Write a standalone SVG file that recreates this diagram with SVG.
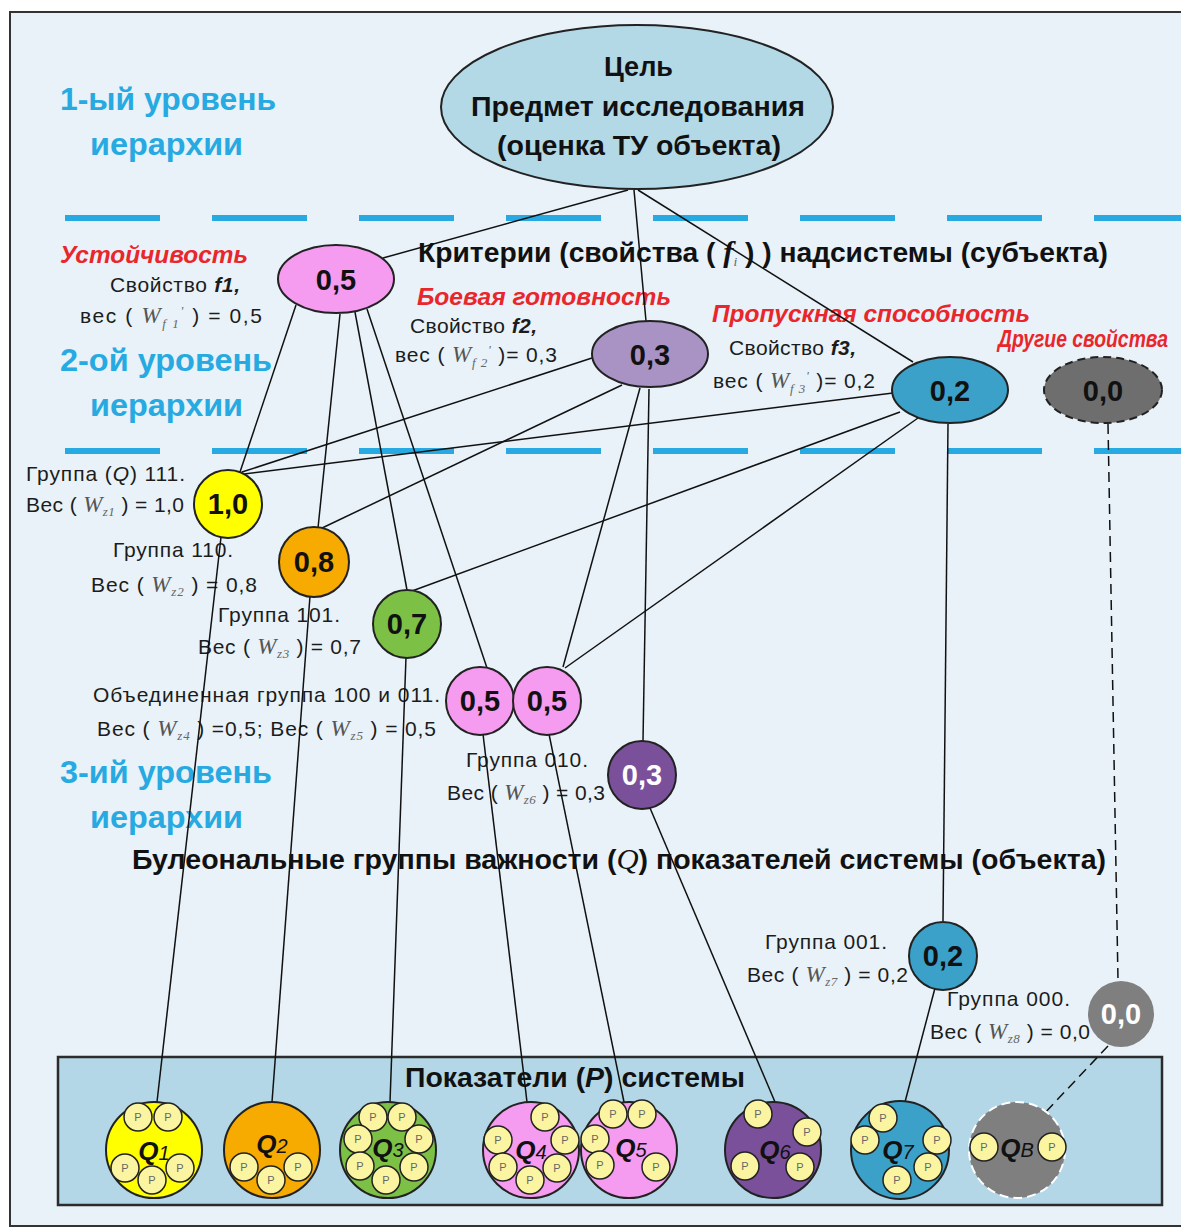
<svg xmlns="http://www.w3.org/2000/svg" xmlns:xlink="http://www.w3.org/1999/xlink" width="1181" height="1231" viewBox="0 0 1181 1231">
<style>
text{font-family:"Liberation Sans",Arial,sans-serif}
.lvl{font-size:31px;font-weight:bold;fill:#27a9e1}
.red{font-size:24px;font-weight:bold;font-style:italic;fill:#e8262b}
.lbl{font-size:21px;fill:#1c1c1c}
.hd{font-size:27px;font-weight:bold;fill:#111}
.num{font-size:29px;font-weight:bold;fill:#111;text-anchor:middle}
.wt{fill:#fff}
.w{font-family:"Liberation Serif",serif;font-style:italic;fill:#555;font-size:23px;font-weight:normal}
.sub{font-family:"Liberation Serif",serif;font-style:italic;fill:#666;font-size:13px;font-weight:normal}
.conn line{stroke:#111;stroke-width:1.5}
.conn line.d{stroke-dasharray:10 6}
.node{stroke:#222;stroke-width:2}
.dash{stroke:#27a9e1;stroke-width:6;stroke-dasharray:95 52;fill:none}
.q{font-size:26px;font-weight:bold;font-style:italic;text-anchor:middle;fill:#111}
.qs{font-size:20px;font-weight:normal}
</style>
<defs>
<g id="P"><circle r="14" fill="#fbf5a2" stroke="#222" stroke-width="1.5"/><text y="4" font-size="11" fill="#666" text-anchor="middle" font-family="Liberation Sans, sans-serif">P</text></g>
</defs>

<rect x="0" y="0" width="1181" height="1231" fill="#ffffff"/>
<rect x="10" y="12" width="1190" height="1214" fill="#e8f2f8" stroke="#333" stroke-width="2"/>

<g id="separators">
<line class="dash" x1="65" y1="218" x2="1181" y2="218"/>
<line class="dash" x1="65" y1="451" x2="1181" y2="451"/>
</g>

<g id="level-labels">
<text class="lvl" x="60" y="110" textLength="216" lengthAdjust="spacingAndGlyphs">1-ый уровень</text>
<text class="lvl" x="90" y="155" textLength="153" lengthAdjust="spacingAndGlyphs">иерархии</text>
<text class="lvl" x="60" y="371" textLength="212" lengthAdjust="spacingAndGlyphs">2-ой уровень</text>
<text class="lvl" x="90" y="416" textLength="153" lengthAdjust="spacingAndGlyphs">иерархии</text>
<text class="lvl" x="60" y="783" textLength="212" lengthAdjust="spacingAndGlyphs">3-ий уровень</text>
<text class="lvl" x="90" y="828" textLength="153" lengthAdjust="spacingAndGlyphs">иерархии</text>
</g>

<g id="indicators-box">
<rect x="58" y="1057" width="1104" height="148" fill="#b3d7e6" stroke="#2b2b2b" stroke-width="2.5"/>
<text class="hd" x="405" y="1087" font-size="24" textLength="340" lengthAdjust="spacingAndGlyphs">Показатели (<tspan font-style="italic">P</tspan>) системы</text>
</g>

<g id="labels">
<text class="hd" x="418" y="262" textLength="690" lengthAdjust="spacingAndGlyphs">Критерии (свойства ( <tspan font-family="Liberation Serif, serif" font-style="italic" font-size="29">f</tspan><tspan class="sub" dy="4">i</tspan><tspan dy="-4"> ) ) надсистемы (субъекта)</tspan></text>
<text class="hd" x="132" y="869" textLength="974" lengthAdjust="spacingAndGlyphs">Булеональные группы важности (<tspan font-family="Liberation Serif, serif" font-style="italic" font-weight="normal" font-size="29">Q</tspan>) показателей системы (объекта)</text>

<text class="red" x="60" y="263" textLength="188" lengthAdjust="spacingAndGlyphs">Устойчивость</text>
<text class="red" x="417" y="305" textLength="254" lengthAdjust="spacingAndGlyphs">Боевая готовность</text>
<text class="red" x="712" y="322" textLength="318" lengthAdjust="spacingAndGlyphs">Пропускная способность</text>
<text class="red" x="998" y="347" font-size="21" textLength="170" lengthAdjust="spacingAndGlyphs">Другие свойства</text>

<text class="lbl" x="110" y="292" textLength="130">Свойство <tspan font-style="italic" font-weight="bold">f1,</tspan></text>
<text class="lbl" x="80" y="323" textLength="182">вес ( <tspan class="w">W</tspan><tspan class="sub" dy="5">f 1</tspan><tspan class="sub" dy="-13">'</tspan><tspan dy="8"> ) = 0,5</tspan></text>
<text class="lbl" x="410" y="333" textLength="127">Свойство <tspan font-style="italic" font-weight="bold">f2,</tspan></text>
<text class="lbl" x="395" y="362" textLength="162">вес ( <tspan class="w">W</tspan><tspan class="sub" dy="5">f 2</tspan><tspan class="sub" dy="-13">'</tspan><tspan dy="8"> )= 0,3</tspan></text>
<text class="lbl" x="729" y="355" textLength="127">Свойство <tspan font-style="italic" font-weight="bold">f3,</tspan></text>
<text class="lbl" x="713" y="388" textLength="162">вес ( <tspan class="w">W</tspan><tspan class="sub" dy="5">f 3</tspan><tspan class="sub" dy="-13">'</tspan><tspan dy="8"> )= 0,2</tspan></text>

<text class="lbl" x="26" y="481" textLength="159">Группа (<tspan font-style="italic">Q</tspan>) 111.</text>
<text class="lbl" x="26" y="512" textLength="158">Вес ( <tspan class="w">W</tspan><tspan class="sub" dy="4">z1</tspan><tspan dy="-4"> ) = 1,0</tspan></text>
<text class="lbl" x="113" y="557" textLength="120">Группа 110.</text>
<text class="lbl" x="91" y="592" textLength="166">Вес ( <tspan class="w">W</tspan><tspan class="sub" dy="4">z2</tspan><tspan dy="-4"> )  = 0,8</tspan></text>
<text class="lbl" x="218" y="622" textLength="122">Группа 101.</text>
<text class="lbl" x="198" y="654" textLength="163">Вес ( <tspan class="w">W</tspan><tspan class="sub" dy="4">z3</tspan><tspan dy="-4"> ) = 0,7</tspan></text>
<text class="lbl" x="93" y="702" textLength="347">Объединенная группа 100 и 011.</text>
<text class="lbl" x="97" y="736" textLength="339">Вес  ( <tspan class="w">W</tspan><tspan class="sub" dy="4">z4</tspan><tspan dy="-4"> ) =0,5; Вес  ( </tspan><tspan class="w">W</tspan><tspan class="sub" dy="4">z5</tspan><tspan dy="-4"> ) = 0,5</tspan></text>
<text class="lbl" x="466" y="767" textLength="122">Группа 010.</text>
<text class="lbl" x="447" y="800" textLength="158">Вес ( <tspan class="w">W</tspan><tspan class="sub" dy="4">z6</tspan><tspan dy="-4"> ) = 0,3</tspan></text>
<text class="lbl" x="765" y="949" textLength="122">Группа 001.</text>
<text class="lbl" x="747" y="982" textLength="161">Вес ( <tspan class="w">W</tspan><tspan class="sub" dy="4">z7</tspan><tspan dy="-4"> ) = 0,2</tspan></text>
<text class="lbl" x="947" y="1006" textLength="123">Группа 000.</text>
<text class="lbl" x="930" y="1039" textLength="160">Вес ( <tspan class="w">W</tspan><tspan class="sub" dy="4">z8</tspan><tspan dy="-4"> ) = 0,0</tspan></text>
</g>

<g id="connectors" class="conn">
<line x1="628" y1="190" x2="383" y2="258"/>
<line x1="634" y1="190" x2="646" y2="321"/>
<line x1="638" y1="190" x2="913" y2="362"/>
<line x1="296" y1="305" x2="240" y2="472"/>
<line x1="340" y1="314" x2="318" y2="528"/>
<line x1="355" y1="312" x2="407" y2="590"/>
<line x1="367" y1="309" x2="487" y2="668"/>
<line x1="592" y1="358" x2="242" y2="472"/>
<line x1="622" y1="385" x2="320" y2="529"/>
<line x1="640" y1="388" x2="563" y2="667"/>
<line x1="649" y1="389" x2="643" y2="741"/>
<line x1="893" y1="393" x2="244" y2="474"/>
<line x1="900" y1="412" x2="412" y2="591"/>
<line x1="918" y1="418" x2="565" y2="668"/>
<line x1="948" y1="424" x2="943" y2="921"/>
<line class="d" x1="1108" y1="424" x2="1118" y2="980"/>
<line x1="221" y1="537" x2="157" y2="1102"/>
<line x1="310" y1="596" x2="272" y2="1102"/>
<line x1="406" y1="657" x2="390" y2="1102"/>
<line x1="483" y1="734" x2="527" y2="1102"/>
<line x1="549" y1="734" x2="624" y2="1102"/>
<line x1="650" y1="808" x2="775" y2="1102"/>
<line x1="935" y1="988" x2="905" y2="1102"/>
<line class="d" x1="1108" y1="1046" x2="1040" y2="1118"/>
</g>

<g id="goal">
<ellipse class="node" cx="637" cy="107" rx="196" ry="82" fill="#b3d8e6" stroke-width="1.5"/>
<text class="hd" x="604" y="76" font-size="26" textLength="69" lengthAdjust="spacingAndGlyphs">Цель</text>
<text class="hd" x="471" y="116" font-size="26" textLength="334" lengthAdjust="spacingAndGlyphs">Предмет исследования</text>
<text class="hd" x="497" y="155" font-size="26" textLength="284" lengthAdjust="spacingAndGlyphs">(оценка ТУ объекта)</text>
</g>

<g id="f1"><ellipse class="node" cx="336" cy="279" rx="58" ry="34" fill="#f59bf0"/><text class="num" x="336" y="290" font-size="31">0,5</text></g>
<g id="f2"><ellipse class="node" cx="650" cy="354" rx="58" ry="33" fill="#a893c4"/><text class="num" x="650" y="365" font-size="31">0,3</text></g>
<g id="f3"><ellipse class="node" cx="950" cy="390" rx="58" ry="33" fill="#3ba1c8"/><text class="num" x="950" y="401" font-size="31">0,2</text></g>
<g id="f4"><ellipse class="node" cx="1103" cy="390" rx="59" ry="33" fill="#6e6e6e" stroke-dasharray="8 5"/><text class="num" x="1103" y="401" font-size="31">0,0</text></g>

<g id="g111"><circle class="node" cx="228" cy="504" r="34" fill="#ffff00"/><text class="num" x="228" y="514">1,0</text></g>
<g id="g110"><circle class="node" cx="314" cy="562" r="35" fill="#f7ab00"/><text class="num" x="314" y="572">0,8</text></g>
<g id="g101"><circle class="node" cx="407" cy="624" r="34" fill="#7cc146"/><text class="num" x="407" y="634">0,7</text></g>
<g id="g100"><circle class="node" cx="480" cy="701" r="34" fill="#f59bf0"/><text class="num" x="480" y="711">0,5</text></g>
<g id="g011"><circle class="node" cx="547" cy="701" r="34" fill="#f59bf0"/><text class="num" x="547" y="711">0,5</text></g>
<g id="g010"><circle class="node" cx="642" cy="775" r="34" fill="#7b509b"/><text class="num wt" x="642" y="785">0,3</text></g>
<g id="g001"><circle class="node" cx="943" cy="956" r="34" fill="#3ba1c8"/><text class="num" x="943" y="966">0,2</text></g>
<g id="g000"><circle cx="1121" cy="1014" r="33" fill="#7f7f7f"/><text class="num wt" x="1121" y="1024">0,0</text></g>

<g id="Q1"><circle class="node" cx="154" cy="1150" r="48" fill="#ffff00"/>
<use xlink:href="#P" x="138" y="1117"/><use xlink:href="#P" x="168" y="1117"/><use xlink:href="#P" x="125" y="1168"/><use xlink:href="#P" x="152" y="1180"/><use xlink:href="#P" x="180" y="1168"/>
<text class="q" x="154" y="1160">Q<tspan class="qs">1</tspan></text></g>
<g id="Q2"><circle class="node" cx="272" cy="1150" r="48" fill="#f7ab00"/>
<use xlink:href="#P" x="244" y="1167"/><use xlink:href="#P" x="271" y="1180"/><use xlink:href="#P" x="298" y="1167"/>
<text class="q" x="272" y="1153">Q<tspan class="qs">2</tspan></text></g>
<g id="Q3"><circle class="node" cx="388" cy="1150" r="48" fill="#7cc146"/>
<use xlink:href="#P" x="373" y="1117"/><use xlink:href="#P" x="402" y="1117"/><use xlink:href="#P" x="358" y="1139"/><use xlink:href="#P" x="419" y="1139"/><use xlink:href="#P" x="360" y="1166"/><use xlink:href="#P" x="414" y="1167"/><use xlink:href="#P" x="386" y="1180"/>
<text class="q" x="388" y="1157">Q<tspan class="qs">3</tspan></text></g>
<g id="Q4"><circle class="node" cx="531" cy="1150" r="48" fill="#f59bf0"/>
<use xlink:href="#P" x="545" y="1117"/><use xlink:href="#P" x="498" y="1140"/><use xlink:href="#P" x="565" y="1140"/><use xlink:href="#P" x="503" y="1167"/><use xlink:href="#P" x="557" y="1168"/><use xlink:href="#P" x="530" y="1180"/>
<text class="q" x="531" y="1159">Q<tspan class="qs">4</tspan></text></g>
<g id="Q5"><circle class="node" cx="629" cy="1150" r="48" fill="#f59bf0"/>
<use xlink:href="#P" x="613" y="1114"/><use xlink:href="#P" x="642" y="1114"/><use xlink:href="#P" x="595" y="1139"/><use xlink:href="#P" x="600" y="1165"/><use xlink:href="#P" x="656" y="1167"/>
<text class="q" x="631" y="1157">Q<tspan class="qs">5</tspan></text></g>
<g id="Q6"><circle class="node" cx="773" cy="1150" r="48" fill="#7b509b"/>
<use xlink:href="#P" x="758" y="1114"/><use xlink:href="#P" x="807" y="1132"/><use xlink:href="#P" x="745" y="1166"/><use xlink:href="#P" x="800" y="1167"/>
<text class="q wt" x="775" y="1159">Q<tspan class="qs">6</tspan></text></g>
<g id="Q7"><circle class="node" cx="900" cy="1150" r="49" fill="#3ba1c8"/>
<use xlink:href="#P" x="883" y="1118"/><use xlink:href="#P" x="865" y="1140"/><use xlink:href="#P" x="937" y="1140"/><use xlink:href="#P" x="928" y="1167"/><use xlink:href="#P" x="897" y="1180"/>
<text class="q" x="898" y="1159">Q<tspan class="qs">7</tspan></text></g>
<g id="QB"><circle cx="1017" cy="1150" r="48" fill="#7f7f7f" stroke="#ffffff" stroke-width="2" stroke-dasharray="9 5"/>
<use xlink:href="#P" x="984" y="1147"/><use xlink:href="#P" x="1052" y="1147"/>
<text class="q wt" x="1017" y="1157">Q<tspan class="qs">B</tspan></text></g>
</svg>
